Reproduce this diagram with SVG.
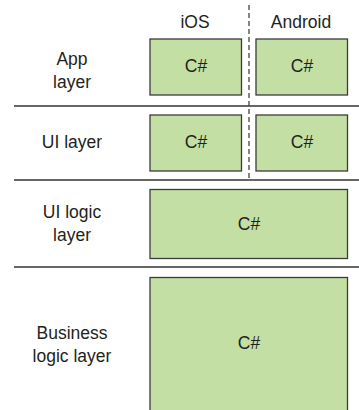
<svg xmlns="http://www.w3.org/2000/svg" width="359" height="410" viewBox="0 0 359 410">
<style>
text{font-family:"Liberation Sans",Arial,sans-serif;font-size:17.5px;fill:#231f20;text-anchor:middle}
.box{fill:#c4dfa3;stroke:#3c3c3c;stroke-width:1.3}
.sep{stroke:#333;stroke-width:1.5;fill:none}
</style>
<rect width="359" height="410" fill="#fff"/>
<g id="connectors">
<line class="sep" x1="14" y1="106" x2="359" y2="106"/>
<line class="sep" x1="14" y1="180" x2="359" y2="180"/>
<line class="sep" x1="14" y1="267" x2="359" y2="267"/>
<line x1="249" y1="5" x2="249" y2="180" stroke="#444" stroke-width="1.3" stroke-dasharray="5,3"/>
</g>
<g id="headers">
<text x="195" y="28">iOS</text>
<text x="301" y="28">Android</text>
</g>
<g id="labels">
<text x="72" y="65">App</text>
<text x="72" y="88">layer</text>
<text x="72" y="148">UI layer</text>
<text x="72" y="218">UI logic</text>
<text x="72" y="241">layer</text>
<text x="72" y="339">Business</text>
<text x="72" y="362">logic layer</text>
</g>
<g id="app-ios"><rect class="box" x="150" y="39" width="91.5" height="56"/><text x="196" y="72">C#</text></g>
<g id="app-android"><rect class="box" x="256" y="39" width="91.5" height="56"/><text x="302" y="72">C#</text></g>
<g id="ui-ios"><rect class="box" x="150" y="115" width="91.5" height="56"/><text x="196" y="148">C#</text></g>
<g id="ui-android"><rect class="box" x="256" y="115" width="91.5" height="56"/><text x="302" y="148">C#</text></g>
<g id="ui-logic"><rect class="box" x="150" y="189.5" width="197.5" height="69"/><text x="249" y="230">C#</text></g>
<g id="business"><rect class="box" x="150" y="277.5" width="197.5" height="140"/><text x="249" y="349">C#</text></g>
</svg>
